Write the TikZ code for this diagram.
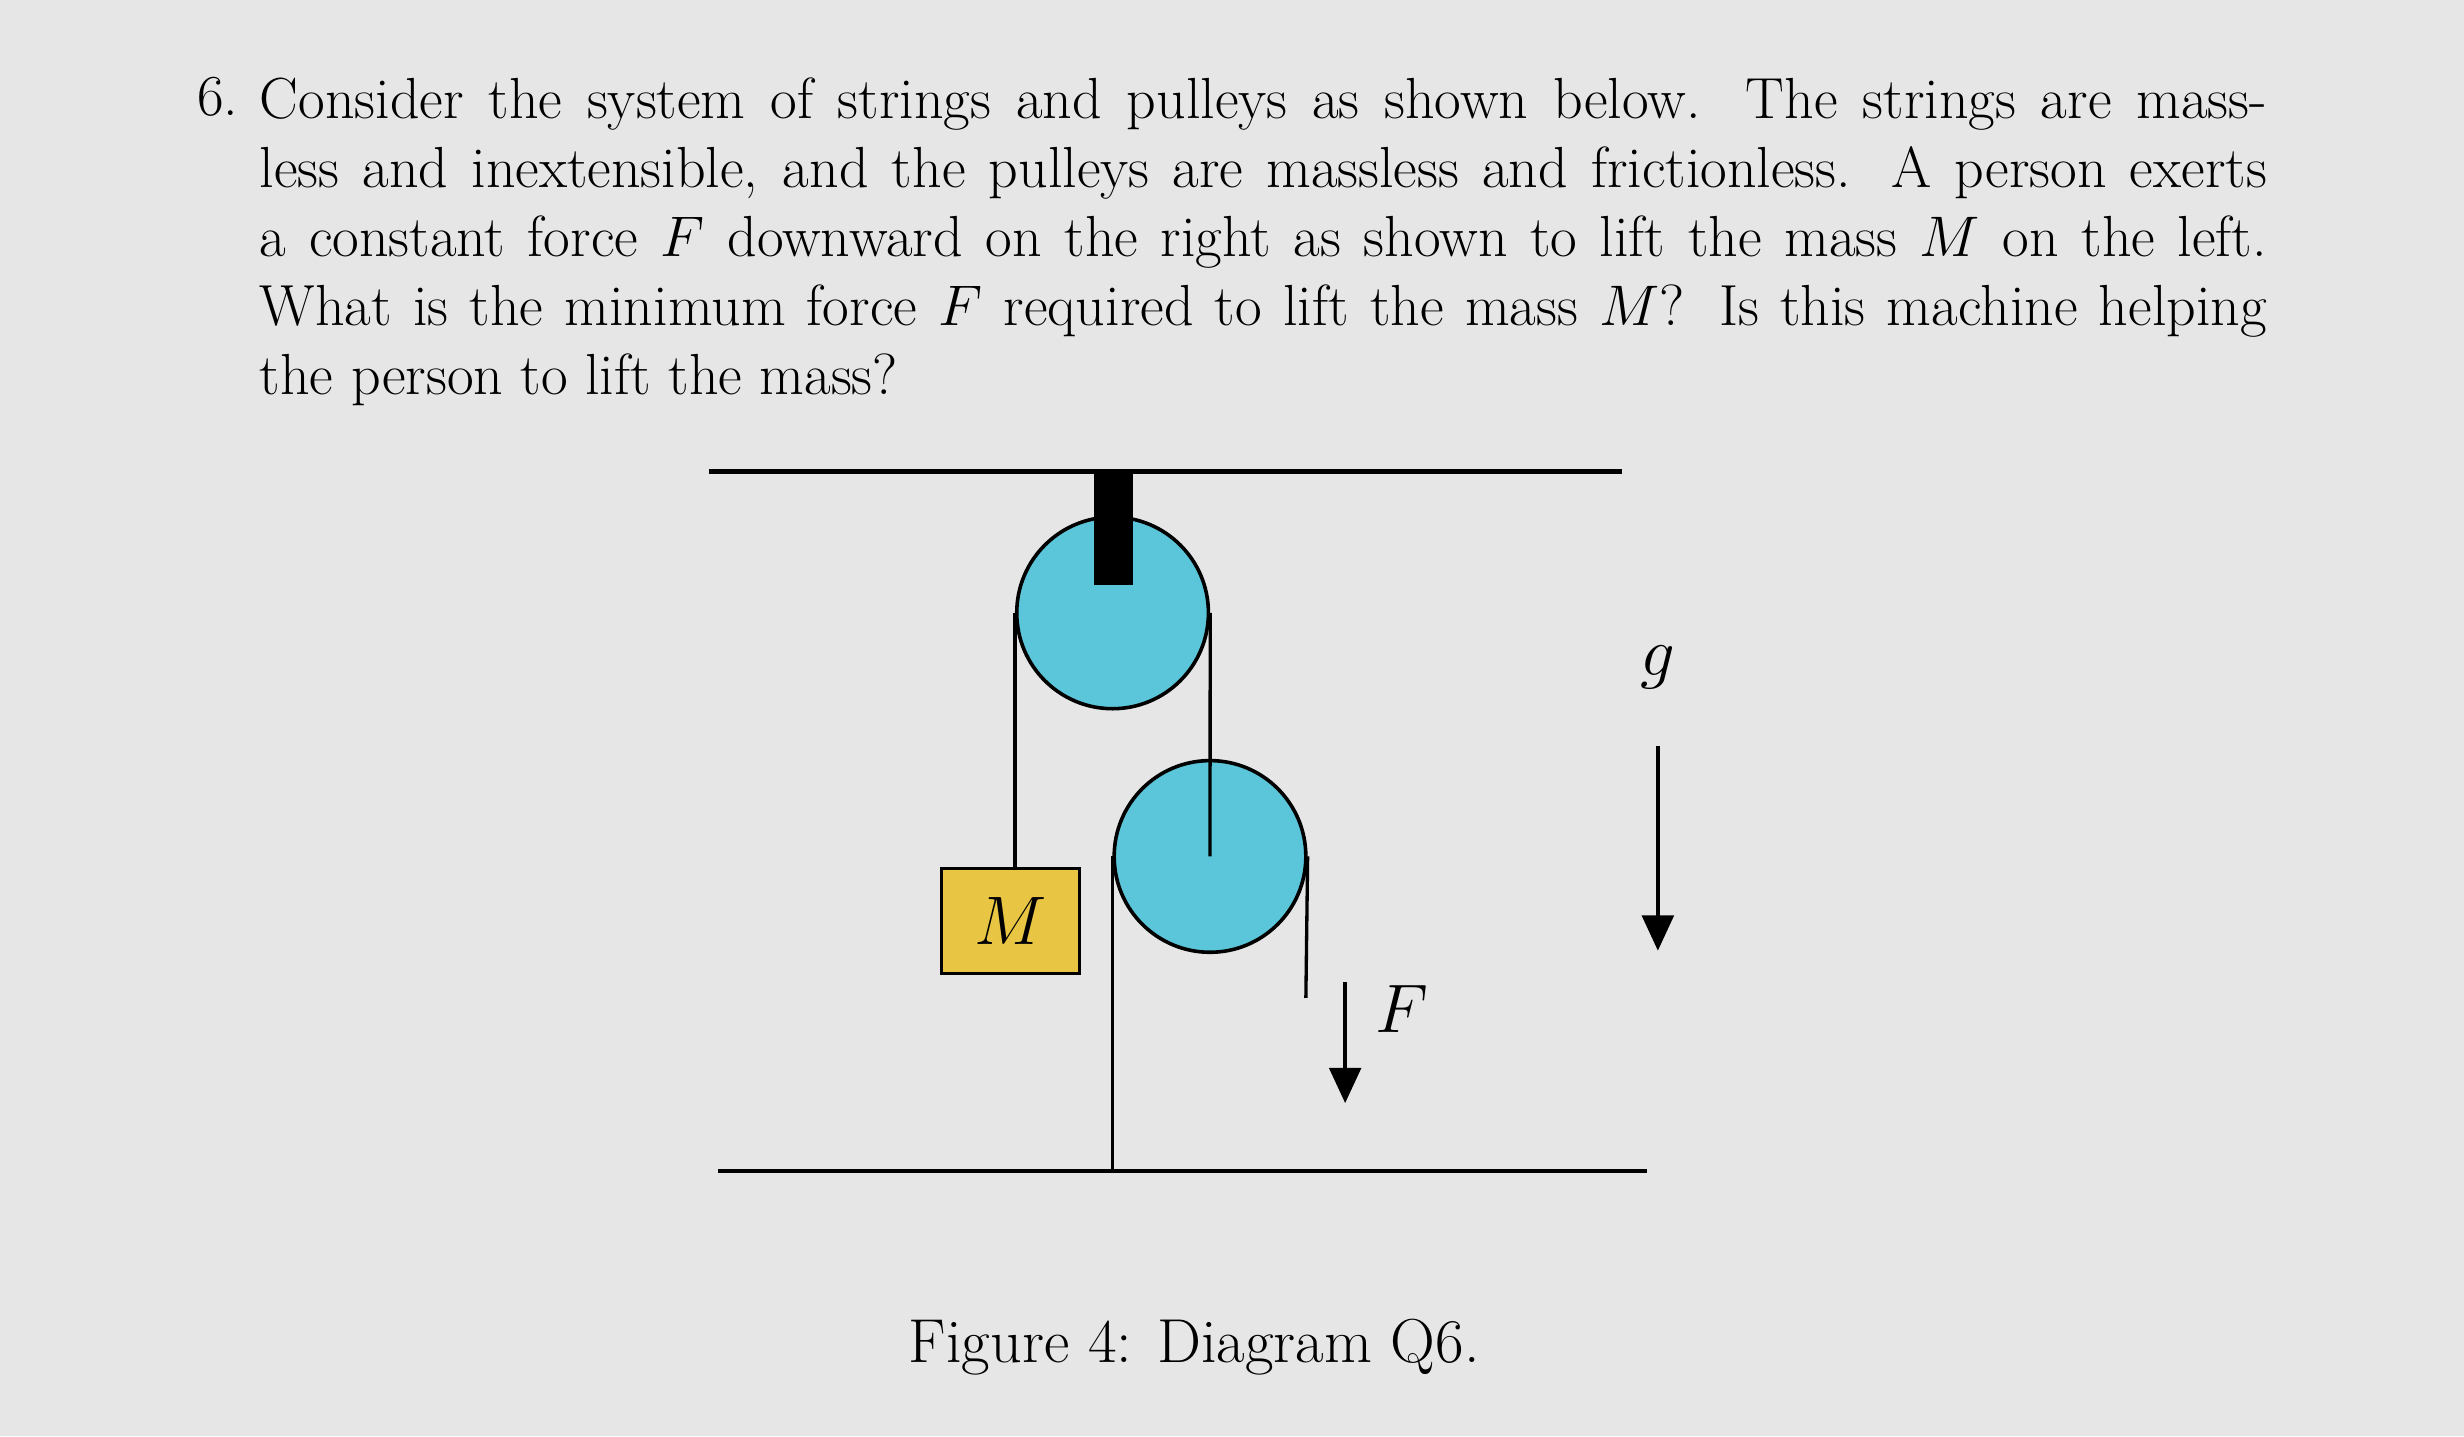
\documentclass[tikz,border=0pt]{standalone}
\usetikzlibrary{arrows.meta}
\definecolor{bg}{HTML}{E6E6E6}
\definecolor{pul}{HTML}{5BC6DA}
\definecolor{box}{HTML}{E9C544}
\begin{document}
\begin{tikzpicture}[x=0.02cm,y=-0.02cm,
  str/.style={line width=1.2pt},
  pulley/.style={circle,draw,line width=1.3pt,fill=pul,minimum size=2.44cm,inner sep=0pt},
  arr/.style={line width=1.6pt,-{Triangle[length=0.45cm,width=0.4cm]}}]
\fill[bg] (0,0) rectangle (1568,914);
\useasboundingbox (0,0) rectangle (1568,914);
\node[anchor=north east,inner sep=0pt,font=\fontsize{21}{25}\selectfont] (num) at (152,49) {6.};
\node[anchor=north west,inner sep=0pt,text width=25.55cm,align=justify,font=\fontsize{21}{25}\selectfont] (txt) at (165,49)
{Consider the system of strings and pulleys as shown below. The strings are mass-\linebreak less and inextensible, and the pulleys are massless and frictionless. A person exerts\linebreak a constant force $F$ downward on the right as shown to lift the mass $M$ on the left.\linebreak What is the minimum force $F$ required to lift the mass $M$? Is this machine helping\linebreak the person to lift the mass?};
\coordinate (c1) at (451,300); \coordinate (c2) at (1032,300);
\draw[line width=1.6pt] (c1) -- (c2);
\coordinate (f1) at (457,745); \coordinate (f2) at (1048,745);
\draw[line width=1.6pt] (f1) -- (f2);
\node[pulley] (p1) at (708,390) {};
\node[pulley] (p2) at (770,545) {};
\fill (696,300) rectangle (721,372);
\node[draw,line width=1.2pt,fill=box,minimum width=1.76cm,minimum height=1.34cm,inner sep=0pt,font=\fontsize{26}{30}\selectfont] (M) at (643,586) {$M$};
\draw[str] (p1.west) -- (M.north -| p1.west);
\draw[str] (p1.east) -- (p2.center);
\draw[str] (p2.west) -- (p2.west |- f1);
\coordinate (e) at (831,635);
\draw[str] (p2.east) -- (e);
\coordinate (fa) at (856,625); \coordinate (fb) at (856,702);
\draw[arr] (fa) -- (fb);
\node[font=\fontsize{26}{30}\selectfont] (F) at (892,642) {$F$};
\node[font=\fontsize{28}{30}\selectfont] (g) at (1055,425) {$g$};
\coordinate (ga) at (1055,475); \coordinate (gb) at (1055,605);
\draw[arr] (ga) -- (gb);
\node[font=\fontsize{22.5}{25}\selectfont] (cap) at (760,857) {Figure 4: Diagram Q6.};
\end{tikzpicture}
\end{document}
